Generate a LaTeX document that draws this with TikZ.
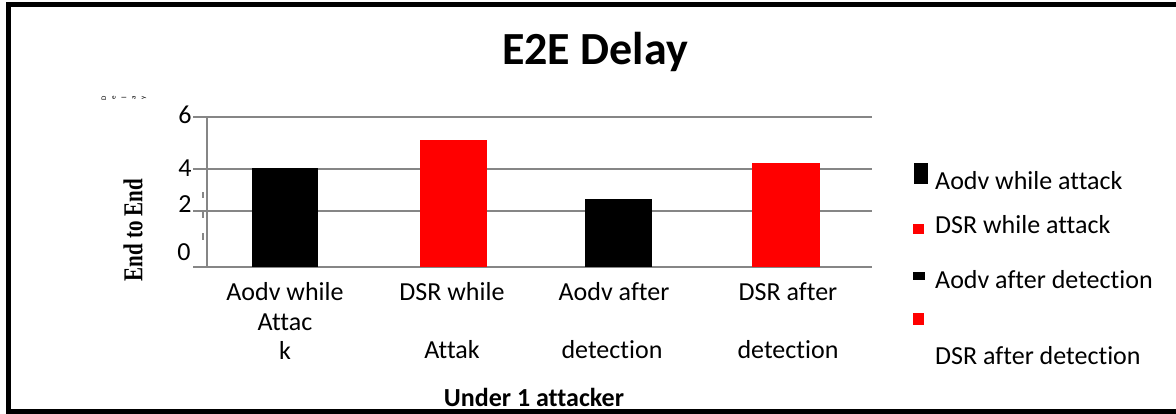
\documentclass[tikz,border=0pt]{standalone}
\usepackage{fontspec}
\setmainfont{Carlito}[Ligatures=NoCommon]
\newfontfamily\labelserif{Liberation Serif}
\definecolor{gridgray}{RGB}{134,134,134}
\definecolor{barred}{RGB}{255,0,0}

\begin{document}
\begin{tikzpicture}[x=1pt,y=-1pt,
    grid/.style={gridgray,line width=2pt},
    lbl/.style={inner sep=0pt,font=\fontsize{26}{26}\selectfont},
    tick/.style={inner sep=0pt,font=\fontsize{26}{26}\selectfont}]
    \useasboundingbox (0,0) rectangle (1176,413);
    % frame
    \draw[line width=5pt] (1176,4) -- (8.5,4) -- (8.5,411) -- (1176,411);
    \node[inner sep=0pt,font=\bfseries\fontsize{46}{46}\selectfont] (title) at (595,52) {E2E Delay};
    % grid and axis
    \foreach \y in {117,169,211,267}
        \draw[grid] (193,\y) -- (872,\y);
    \draw[grid] (207,117) -- (207,267);
    \foreach \a/\b in {192/198,212/218,233/240}
        \draw[gridgray,line width=2.5pt] (203,\a) -- (203,\b);
    \node[tick] (t6) at (185,115) {6};
    \node[tick] (t4) at (185,168) {4};
    \node[tick] (t2) at (185,204) {2};
    \node[tick] (t0) at (184,252) {0};
    \foreach \l [count=\i] in {D,e,l,a,y}
        \node[inner sep=0pt,rotate=90,font=\fontsize{7}{7}\selectfont] (d\i) at ({94+10*\i},98) {\l};
    \node[inner sep=0pt,rotate=90,font=\labelserif\bfseries\fontsize{21}{21}\selectfont] (ylab) at (133,230) {\scalebox{1}[1.3]{End to End}};
    % bars
    \fill[black] (252,168) rectangle (318,267);
    \fill[barred] (420,140) rectangle (487,267);
    \fill[black] (585,199) rectangle (652,267);
    \fill[barred] (752,163) rectangle (820,267);
    % categories
    \node[lbl] (c1a) at (285,292) {Aodv while};
    \node[lbl] (c1b) at (285,322) {Attac};
    \node[lbl] (c1c) at (285,350) {k};
    \node[lbl] (c2a) at (452,292) {DSR while};
    \node[lbl] (c2b) at (452,350) {Attak};
    \node[lbl] (c3a) at (614,292) {Aodv after};
    \node[lbl] (c3b) at (612,350) {detection};
    \node[lbl] (c4a) at (788,292) {DSR after};
    \node[lbl] (c4b) at (788,350) {detection};
    \node[lbl,font=\bfseries\fontsize{26}{26}\selectfont] (xlab) at (534,397) {Under 1 attacker};
    % legend
    \fill[black] (914,163) rectangle (928,184);
    \fill[barred] (913,224) rectangle (924,234);
    \fill[black] (913,272) rectangle (925,280);
    \fill[barred] (913,313) rectangle (924,325);
    \node[lbl,anchor=west] (k1) at (935,181) {Aodv while attack};
    \node[lbl,anchor=west] (k2) at (935,225) {DSR while attack};
    \node[lbl,anchor=west] (k3) at (935,280) {Aodv after detection};
    \node[lbl,anchor=west] (k4) at (935,356) {DSR after detection};
\end{tikzpicture}
\end{document}
